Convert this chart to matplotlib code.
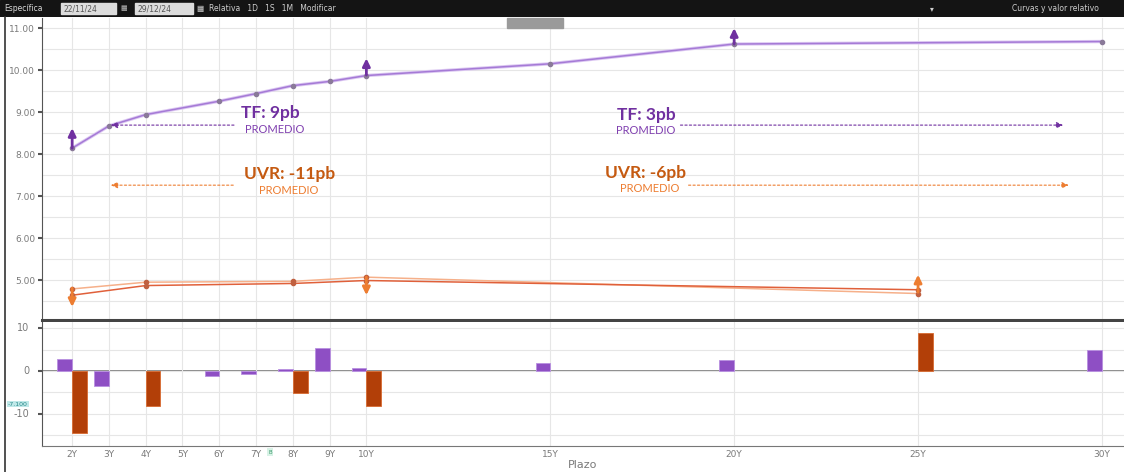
import numpy as np
import matplotlib
matplotlib.use("Agg")
import matplotlib.pyplot as plt

plt.rcParams["axes.unicode_minus"] = False

# --- data ---
tenor_ticks = [2, 3, 4, 5, 6, 7, 8, 9, 10, 15, 20, 25, 30]
tenor_labels = ["2Y", "3Y", "4Y", "5Y", "6Y", "7Y", "8Y", "9Y", "10Y", "15Y", "20Y", "25Y", "30Y"]

tf_tenors = [2, 3, 4, 6, 7, 8, 9, 10, 15, 20, 30]
tf_yield = [8.14, 8.67, 8.94, 9.26, 9.44, 9.63, 9.73, 9.87, 10.15, 10.62, 10.68]

uvr_tenors = [2, 4, 8, 10, 25]
uvr_prev = [4.79, 4.95, 4.97, 5.07, 4.68]
uvr_now = [4.64, 4.87, 4.92, 4.99, 4.77]

tf_chg_tenors = [2, 3, 6, 7, 8, 9, 10, 15, 20, 30]
tf_chg = [2.8, -3.6, -1.1, -0.7, 0.4, 5.5, 0.8, 1.9, 2.5, 4.9]
uvr_chg_tenors = [2, 4, 8, 10, 25]
uvr_chg = [-14.5, -8.2, -5.1, -8.3, 9.0]
chg_ticks = [-10, 0, 10]

# arrows on the curves (tenor, start, end)
tf_arrows = [(2, 8.14, 8.62), (10, 9.88, 10.28), (20, 10.62, 11.0)]
uvr_arrows = [(2, 4.81, 4.36), (10, 5.07, 4.64), (25, 4.71, 5.13)]

PURPLE = "#7030A0"
ORANGE = "#ED7D31"
BROWN_TXT = "#C55A11"
GRID = "#e6e6e6"
LAB = "#7a7a7a"

W, H = 1124, 472
fig = plt.figure(figsize=(W / 100, H / 100), dpi=100)
fig.patch.set_facecolor("white")

def box(x0, y0, x1, y1):
    return [x0 / W, 1 - y1 / H, (x1 - x0) / W, (y1 - y0) / H]

xlim = (1.18, 30.6)

# --- top panel: yield curves ---
ax = fig.add_axes(box(42, 18, 1124, 320))
ax.set_xlim(*xlim)
ax.set_ylim(4.05, 11.24)
yt = np.arange(5, 11.01, 1.0)
ax.set_yticks(yt)
ax.set_yticklabels([f"{v:.2f}" for v in yt])
ax.set_yticks(np.arange(4.5, 11.1, 0.5), minor=True)
ax.set_xticks(tenor_ticks)
ax.tick_params(axis="x", length=0, labelbottom=False)
ax.tick_params(axis="y", which="major", length=3, width=1.5, color="#555555",
               labelsize=6.5, labelcolor=LAB, pad=2)
ax.tick_params(axis="y", which="minor", length=0)
ax.grid(True, which="both", color=GRID, lw=0.8)
for s in ["top", "right"]:
    ax.spines[s].set_visible(False)
ax.spines["left"].set_color("#555555")
ax.spines["bottom"].set_color("#444444")
ax.spines["bottom"].set_linewidth(2.2)

ax.plot(tf_tenors, tf_yield, color="#dcc8f2", lw=2.4, zorder=2)
ax.plot(tf_tenors, tf_yield, color="#a57ad6", lw=1.1, marker="o", ms=3,
        mfc="#8a7a99", mec="#8a7a99", zorder=3)
ax.plot(uvr_tenors, uvr_prev, color="#f6b08a", lw=1.1, marker="o", ms=3,
        mfc="#c06040", mec="#c06040", zorder=3)
ax.plot(uvr_tenors, uvr_now, color="#e0603a", lw=1.1, marker="o", ms=3,
        mfc="#c06040", mec="#c06040", zorder=3)

def move_arrow(t, y0, y1, col):
    ax.annotate("", xy=(t, y1), xytext=(t, y0),
                arrowprops=dict(arrowstyle="-|>,head_width=0.22,head_length=0.45",
                                color=col, lw=2, shrinkA=0, shrinkB=0), zorder=5)

for t, y0, y1 in tf_arrows:
    move_arrow(t, y0, y1, PURPLE)
for t, y0, y1 in uvr_arrows:
    move_arrow(t, y0, y1, ORANGE)

# average annotations
fnt = "Lato"
def note(x, y, big, col_big, xs, ys, col_small):
    ax.text(x, y, big, color=col_big, fontsize=12.5, fontweight="bold",
            family=fnt, ha="center", va="center")
    ax.text(xs, ys, "PROMEDIO", color=col_small, fontsize=8, family=fnt,
            ha="center", va="center")

note(7.39, 8.98, "TF: 9pb", PURPLE, 7.5, 8.58, "#8040b0")
note(7.9, 7.52, "UVR: -11pb", BROWN_TXT, 7.9, 7.13, ORANGE)
note(17.6, 8.92, "TF: 3pb", PURPLE, 17.6, 8.57, "#8040b0")
note(17.6, 7.55, "UVR: -6pb", BROWN_TXT, 17.7, 7.17, ORANGE)

def dashed_arrow(x0, x1, y, col):
    ax.annotate("", xy=(x1, y), xytext=(x0, y),
                arrowprops=dict(arrowstyle="-|>,head_width=0.18,head_length=0.4",
                                color=col, lw=0.8, linestyle=(0, (2, 2)),
                                shrinkA=0, shrinkB=0))

dashed_arrow(6.4, 3.05, 8.69, PURPLE)
dashed_arrow(6.38, 3.05, 7.26, ORANGE)
dashed_arrow(18.54, 28.95, 8.69, PURPLE)
dashed_arrow(18.76, 29.1, 7.26, ORANGE)

# --- bottom panel: changes in bp ---
bx = fig.add_axes(box(42, 322, 1124, 446))
bx.set_xlim(*xlim)
bx.set_ylim(-17.6, 11.5)
bx.set_yticks(chg_ticks)
bx.set_yticks([-15, -5, 5], minor=True)
bx.set_xticks(tenor_ticks)
bx.set_xticklabels(tenor_labels)
bx.tick_params(axis="x", length=0, labelsize=6.5, labelcolor=LAB, pad=3)
bx.tick_params(axis="y", which="major", length=3, width=1.5, color="#555555",
               labelleft=False)
bx.tick_params(axis="y", which="minor", length=0)
for v in chg_ticks:
    bx.text(-0.012, v, str(v), transform=bx.get_yaxis_transform(),
            ha="right", va="center", fontsize=7, color=LAB)
bx.grid(True, which="both", color=GRID, lw=0.8)
for s in ["top", "right"]:
    bx.spines[s].set_visible(False)
bx.spines["left"].set_color("#555555")
bx.spines["bottom"].set_color("#777777")
bx.axhline(0, color="#777777", lw=1.2, zorder=1)

bx.bar(tf_chg_tenors, tf_chg, width=-0.4, align="edge", color="#8e4fc4",
       edgecolor="#b890e0", lw=0.6, zorder=3)
bx.bar(uvr_chg_tenors, uvr_chg, width=0.4, align="edge", color="#b23f08",
       edgecolor="#d86a30", lw=0.6, zorder=3)

bx.set_xlabel("Plazo", fontsize=8, color=LAB, labelpad=2)
bx.xaxis.set_label_coords((583 - 42) / (1124 - 42), -0.11)

# small marker labels
fig.text(8 / W, 1 - 404 / H, "-7.100", fontsize=4.5, color="#2a8a8a",
         va="center", ha="left",
         bbox=dict(boxstyle="square,pad=0.15", fc="#bfe8e8", ec="none"))
fig.text(270 / W, 1 - 452 / H, "B", fontsize=4, color="#3a9a6a", va="center",
         ha="center", bbox=dict(boxstyle="square,pad=0.2", fc="#d8f2e6", ec="none"))

# --- top toolbar strip ---
tb = fig.add_axes(box(0, 0, 1124, 17))
tb.set_xlim(0, W)
tb.set_ylim(17, 0)
tb.axis("off")
tb.add_patch(plt.Rectangle((0, 0), W, 17, color="#141414"))
tb.add_patch(plt.Rectangle((61, 3), 55, 11, color="#dcdcdc"))
tb.add_patch(plt.Rectangle((135, 3), 58, 11, color="#dcdcdc"))
tb.text(4, 8.5, "Específica", color="#d8d8d8", fontsize=5.5, va="center")
tb.text(63, 8.5, "22/11/24", color="#555555", fontsize=5.5, va="center")
tb.text(137, 8.5, "29/12/24", color="#555555", fontsize=5.5, va="center")
tb.text(120, 8.5, "▦", color="#bbbbbb", fontsize=5, va="center")
tb.text(197, 8.5, "▦  Relativa   1D   1S   1M   Modificar", color="#cfcfcf",
        fontsize=5.5, va="center")
tb.text(930, 8.5, "▾", color="#cfcfcf", fontsize=5.5, va="center")
tb.text(1055, 8.5, "Curvas y valor relativo", color="#cfcfcf", fontsize=5.5,
        va="center", ha="center")

# grey button under the toolbar
fig.patches.append(plt.Rectangle((507 / W, 1 - 28 / H), 56 / W, 10 / H,
                                 transform=fig.transFigure, color="#9a9a9a",
                                 zorder=5))

# left frame line
fig.add_artist(plt.Line2D([5 / W, 5 / W], [0, 1 - 17 / H], color="#333333",
                          lw=1.2, transform=fig.transFigure))

fig.savefig("out.png", dpi=100)
